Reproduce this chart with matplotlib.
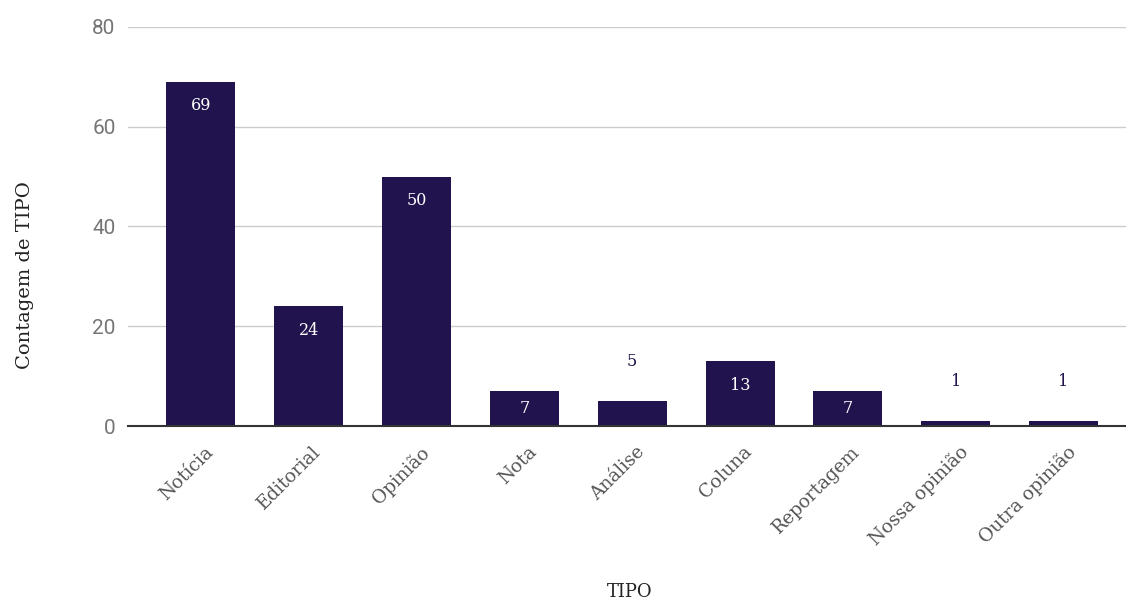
import matplotlib
matplotlib.use("Agg")
import matplotlib.pyplot as plt
import matplotlib.transforms as mtrans
import numpy as np

categories = ["Notícia", "Editorial", "Opinião", "Nota", "Análise", "Coluna",
              "Reportagem", "Nossa opinião", "Outra opinião"]
values = [69, 24, 50, 7, 5, 13, 7, 1, 1]
yticks = [0, 20, 40, 60, 80]

bar_color = "#21134d"
serif = "DejaVu Serif"
fig = plt.figure(figsize=(11.26, 6.01), dpi=100)
ax = fig.add_axes([128/1126, 1 - 426/601, 1 - 128/1126, (426 - 27)/601])

x = np.arange(len(categories))
bars = ax.bar(x, values, width=0.64, color=bar_color, zorder=3)

ax.set_ylim(0, 80)
ax.set_xlim(-0.677, 8.58)
ax.set_yticks(yticks)
ax.yaxis.grid(True, color="#cccccc", linewidth=1, zorder=0)
for s in ["top", "right", "left"]:
    ax.spines[s].set_visible(False)
ax.spines["bottom"].set_color("#333333")
ax.spines["bottom"].set_linewidth(1.5)
ax.spines["bottom"].set_zorder(4)
ax.tick_params(axis="y", length=0, pad=9, labelsize=15, labelcolor="#757575")
ax.tick_params(axis="x", length=0, pad=2)
for lab in ax.get_yticklabels():
    lab.set_fontfamily("Roboto")

ax.set_xticks(x)
ax.set_xticklabels(categories, rotation=45, ha="right", rotation_mode="anchor",
                   family=serif, fontsize=13.3, color="#555555")
for lab in ax.get_xticklabels():
    lab.set_transform(lab.get_transform() + mtrans.ScaledTranslation(3/100, -14/100, fig.dpi_scale_trans))

px_per_unit = 399 / 80
for xi, v in zip(x, values):
    h = v * px_per_unit
    if v >= 7:
        off = min(24, h / 2)
        ax.annotate(str(v), (xi, v), xytext=(0, -off), textcoords="offset pixels",
                    ha="center", va="center", color="white", fontsize=11.5,
                    family=serif, zorder=5)
    else:
        ax.annotate(str(v), (xi, v), xytext=(0, 40), textcoords="offset pixels",
                    ha="center", va="center", color=bar_color, fontsize=11.5,
                    family=serif, zorder=5)

fig.text(25/1126, 1 - 275/601, "Contagem de TIPO", rotation=90, ha="center", va="center",
         family=serif, fontsize=14, color="#222222")
fig.text(630/1126, 1 - 592/601, "TIPO", ha="center", va="center",
         family=serif, fontsize=13, color="#222222")

fig.savefig("out.png", dpi=100, facecolor="white")
